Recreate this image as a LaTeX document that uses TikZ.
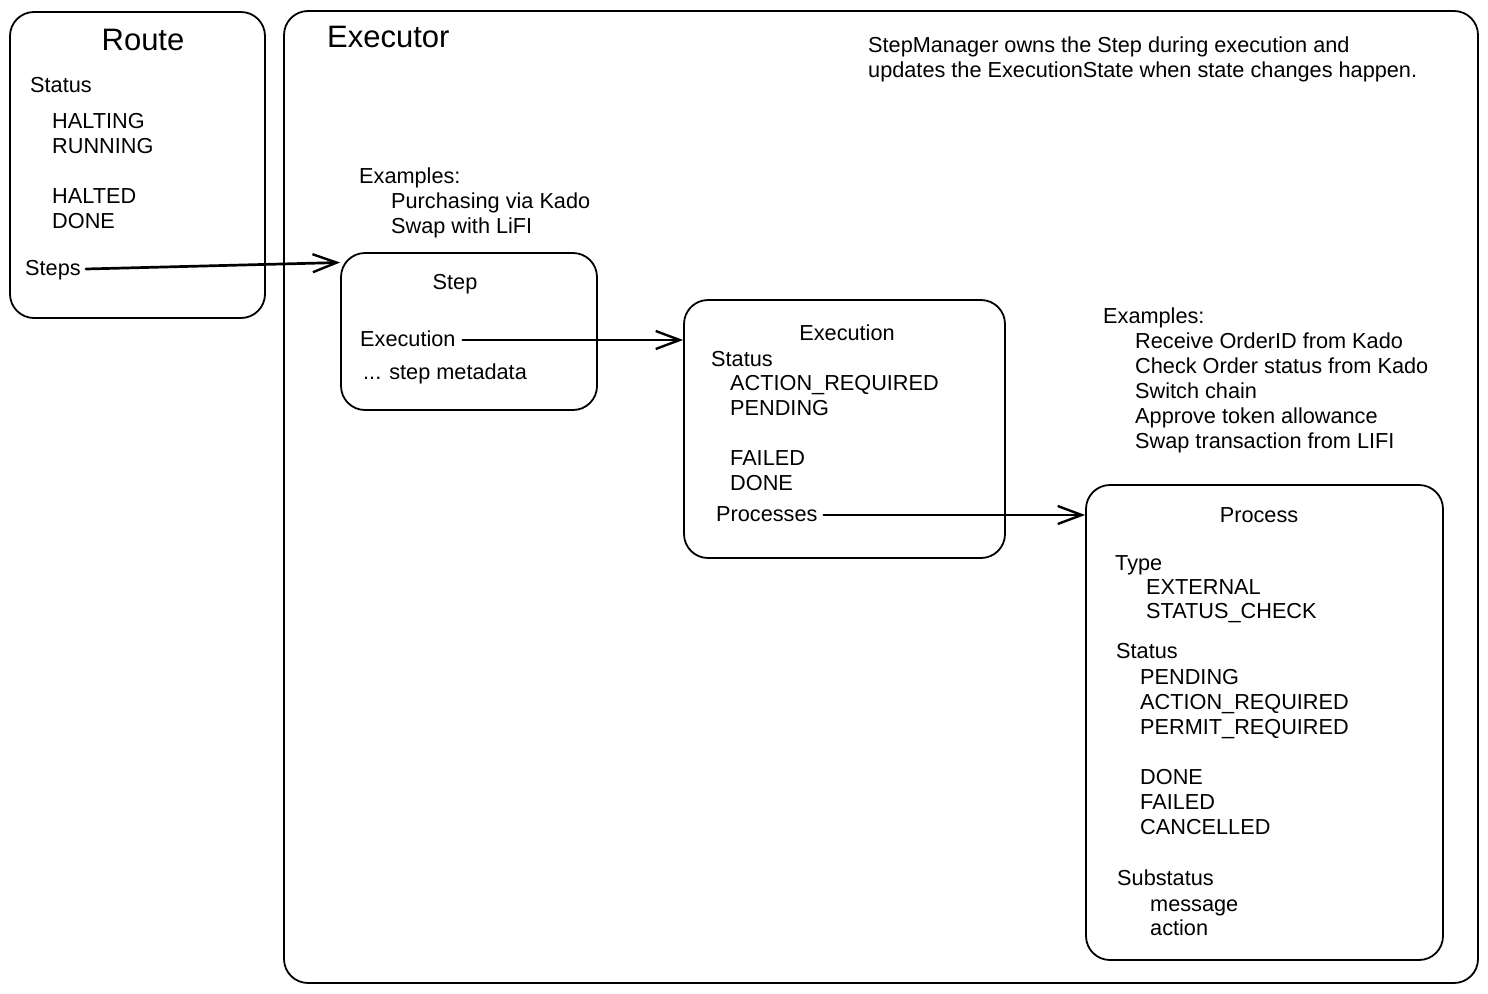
\documentclass[tikz,border=0pt]{standalone}
\usepackage{fontspec}
\setmainfont{Liberation Sans}
\usetikzlibrary{arrows.meta,fit}

\tikzset{
  box/.style={draw=black, line width=1.8pt, rounded corners=24pt, inner sep=0pt, fill=none},
  txt/.style={anchor=base west, inner sep=0pt, font=\fontsize{21.7}{25}\selectfont},
  ctxt/.style={anchor=base, inner sep=0pt, font=\fontsize{21.7}{25}\selectfont},
  title/.style={inner sep=0pt, font=\fontsize{31}{36}\selectfont},
  link/.style={draw=black, line width=2.7pt, line cap=round,
    -{Straight Barb[length=24pt,width=18pt,line width=2.4pt]}},
}

\begin{document}
\begin{tikzpicture}[x={(1pt,0)}, y={(0,-1pt)}]
  \useasboundingbox[fill=white] (0,0) rectangle (1488,993);

  % containers
  \node[box, fit={(10,12) (265,318)}] (route) {};
  \node[box, fit={(284,11) (1478,983)}] (executor) {};
  \node[box, fit={(341,253) (597,410)}] (stepbox) {};
  \node[box, fit={(684,300) (1005,558)}] (execbox) {};
  \node[box, fit={(1086,485) (1443,960)}] (procbox) {};

  % Route
  \node[title, anchor=base] (routeT) at (143,50) {Route};
  \node[txt] (rStatus) at (30,92) {Status};
  \node[txt] (rHalting) at (52,128) {HALTING};
  \node[txt] (rRunning) at (52,153) {RUNNING};
  \node[txt] (rHalted) at (52,203) {HALTED};
  \node[txt] (rDone) at (52,228) {DONE};
  \node[txt] (rSteps) at (25,275) {Steps};

  % Executor
  \node[title, anchor=base west] (execT) at (327,47) {Executor};
  \node[txt] (note1) at (868,52) {StepManager owns the Step during execution and};
  \node[txt] (note2) at (868,77) {updates the ExecutionState when state changes happen.};

  \node[txt] (ex1) at (359,183) {Examples:};
  \node[txt] (ex1a) at (391,208) {Purchasing via Kado};
  \node[txt] (ex1b) at (391,233) {Swap with LiFI};

  % Step
  \node[ctxt] (stepT) at (455,289) {Step};
  \node[txt] (sExec) at (360,346) {Execution};
  \node[txt] (sMeta) at (363,379) {... step metadata};

  % Execution
  \node[ctxt] (execTitle) at (847,340) {Execution};
  \node[txt] (eStatus) at (711,366) {Status};
  \node[txt] (eAction) at (730,390) {ACTION\_REQUIRED};
  \node[txt] (ePending) at (730,415) {PENDING};
  \node[txt] (eFailed) at (730,465) {FAILED};
  \node[txt] (eDone) at (730,490) {DONE};
  \node[txt] (eProcs) at (716,521) {Processes};

  % Process examples
  \node[txt] (ex2) at (1103,323) {Examples:};
  \node[txt] (ex2a) at (1135,348) {Receive OrderID from Kado};
  \node[txt] (ex2b) at (1135,373) {Check Order status from Kado};
  \node[txt] (ex2c) at (1135,398) {Switch chain};
  \node[txt] (ex2d) at (1135,423) {Approve token allowance};
  \node[txt] (ex2e) at (1135,448) {Swap transaction from LIFI};

  % Process
  \node[ctxt] (procT) at (1259,522) {Process};
  \node[txt] (pType) at (1115,570) {Type};
  \node[txt] (pExt) at (1146,594) {EXTERNAL};
  \node[txt] (pCheck) at (1146,618) {STATUS\_CHECK};
  \node[txt] (pStatus) at (1116,658) {Status};
  \node[txt] (pPending) at (1140,684) {PENDING};
  \node[txt] (pAction) at (1140,709) {ACTION\_REQUIRED};
  \node[txt] (pPermit) at (1140,734) {PERMIT\_REQUIRED};
  \node[txt] (pDone) at (1140,784) {DONE};
  \node[txt] (pFailed) at (1140,809) {FAILED};
  \node[txt] (pCancel) at (1140,834) {CANCELLED};
  \node[txt] (pSub) at (1117,885) {Substatus};
  \node[txt] (pMsg) at (1150,911) {message};
  \node[txt] (pAct) at (1150,935) {action};

  % connectors
  \coordinate (stepIn) at ([yshift=69pt]stepbox.west);
  \draw[link] ([xshift=5pt,yshift=6pt]rSteps.base east) -- (stepIn);
  \draw[link] ([xshift=7pt,yshift=6pt]sExec.base east) -- ([yshift=6pt]sExec.base east -| execbox.west);
  \draw[link] ([xshift=6pt,yshift=6pt]eProcs.base east) -- ([yshift=6pt]eProcs.base east -| procbox.west);
\end{tikzpicture}
\end{document}
